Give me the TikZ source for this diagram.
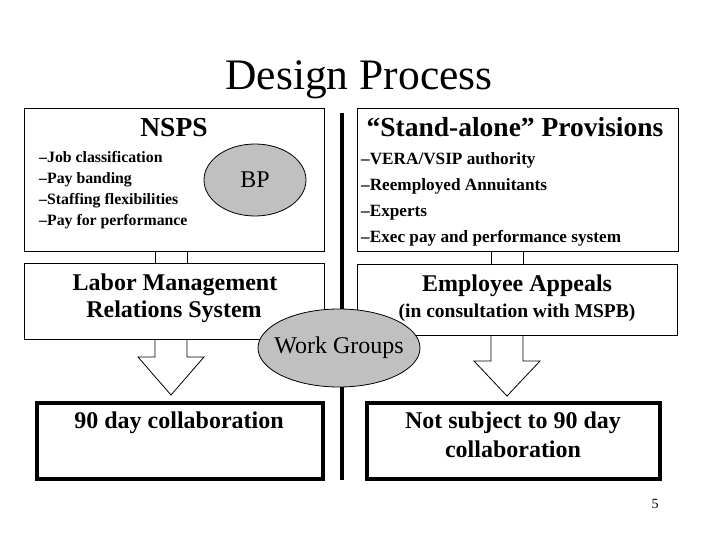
\documentclass[tikz,border=0pt]{standalone}
\usepackage{fontspec}
\setmainfont{Liberation Serif}
\usetikzlibrary{shapes.geometric,calc}
\definecolor{blobgray}{RGB}{192,192,192}
\tikzset{
  panel/.style={draw, line width=1pt, fill=white, inner sep=0pt},
  outcome/.style={draw, line width=4pt, fill=white, inner sep=0pt},
  blob/.style={ellipse, draw, line width=0.8pt, fill=blobgray, inner sep=0pt,
    font=\fontsize{24}{28}\selectfont},
  blobtext/.style={inner sep=0pt, font=\fontsize{24}{28}\selectfont},
  blockarrow/.style={draw, fill=white, line width=0.8pt, line join=miter},
  boxtitle/.style={anchor=base, font=\bfseries\fontsize{27.5}{32}\selectfont},
  boxtext/.style={anchor=base, font=\bfseries\fontsize{24}{28}\selectfont},
  leftitem/.style={anchor=base west, inner sep=0pt, font=\bfseries\fontsize{15.8}{19}\selectfont},
  rightitem/.style={anchor=base west, inner sep=0pt, font=\bfseries\fontsize{17.2}{20}\selectfont}
}
\begin{document}
\begin{tikzpicture}[x=1pt,y=-1pt,>=latex]
\useasboundingbox (0,0) rectangle (720,540);

\node[anchor=base, font=\fontsize{43.5}{50}\selectfont] (title) at (359,90) {Design Process};

\node[panel, minimum width=300pt, minimum height=143pt] (nsps) at (174.5,180) {};
\node[panel, minimum width=321pt, minimum height=143pt] (standalone) at (518,180) {};
\node[panel, minimum width=300pt, minimum height=76pt] (labor) at (174.5,301.5) {};
\node[panel, minimum width=320pt, minimum height=71pt] (appeals) at (517.5,300) {};
\node[outcome, minimum width=286pt, minimum height=76pt] (collab) at (180,441) {};
\node[outcome, minimum width=293pt, minimum height=76pt] (nocollab) at (513.5,441) {};

\node[boxtitle] (nspstitle) at (174,137) {NSPS};
\foreach \txt [count=\i] in {–Job classification, –Pay banding, –Staffing flexibilities, –Pay for performance}
  \node[leftitem] (nspsitem\i) at (39,142.3+20.7*\i) {\txt};
\node[blob, minimum width=102pt, minimum height=72pt] (bp) at (255,180) {BP};

\node[boxtitle] (standtitle) at (515,137) {“Stand-alone” Provisions};
\foreach \txt [count=\i] in {–VERA/VSIP authority, –Reemployed Annuitants, –Experts, –Exec pay and performance system}
  \node[rightitem] (standitem\i) at (361,139.3+25.7*\i) {\txt};

\node[boxtext] (labor1) at (175,290) {Labor Management};
\node[boxtext] (labor2) at (174,317) {Relations System};

\node[boxtext] (appeals1) at (517,291) {Employee Appeals};
\node[boxtext, font=\bfseries\fontsize{19.5}{23}\selectfont] (appeals2) at (517,317) {(in consultation with MSPB)};

\node[boxtext] (collab1) at (179,428) {90 day collaboration};
\node[boxtext] (nocollab1) at (513,428) {Not subject to 90 day};
\node[boxtext] (nocollab2) at (513,457) {collaboration};

\coordinate (lx) at (171,0);
\coordinate (rx) at (507,0);

\draw[line width=0.8pt] ($(nsps.south -| lx)+(-16,0)$) -- ($(labor.north -| lx)+(-16,0)$)
  ($(nsps.south -| lx)+(16,0)$) -- ($(labor.north -| lx)+(16,0)$);
\draw[line width=0.8pt] ($(standalone.south -| rx)+(-16,0)$) -- ($(appeals.north -| rx)+(-16,0)$)
  ($(standalone.south -| rx)+(16,0)$) -- ($(appeals.north -| rx)+(16,0)$);

\draw[blockarrow] ($(labor.south -| lx)+(-16,0)$) -- ++(0,17) -- ++(-17,0)
  -- ($(collab.north -| lx)+(0,-6)$) -- ++(33,-38) -- ++(-17,0)
  -- ($(labor.south -| lx)+(16,0)$);
\draw[blockarrow] ($(appeals.south -| rx)+(-16,0)$) -- ++(0,25) -- ++(-17,0)
  -- ($(nocollab.north -| rx)+(0,-5)$) -- ++(33,-35) -- ++(-17,0)
  -- ($(appeals.south -| rx)+(16,0)$);

\coordinate (divtop) at (342,113);
\coordinate (divbot) at (342,480);
\draw[line width=4.5pt] (divtop) -- (divbot);

\node[blob, minimum width=162pt, minimum height=78pt] (work) at (339,348) {};
\node[blobtext] (worktext) at (work.center) {Work Groups};

\node[font=\fontsize{14}{16}\selectfont] (pagenum) at (655,504) {5};

\end{tikzpicture}
\end{document}
